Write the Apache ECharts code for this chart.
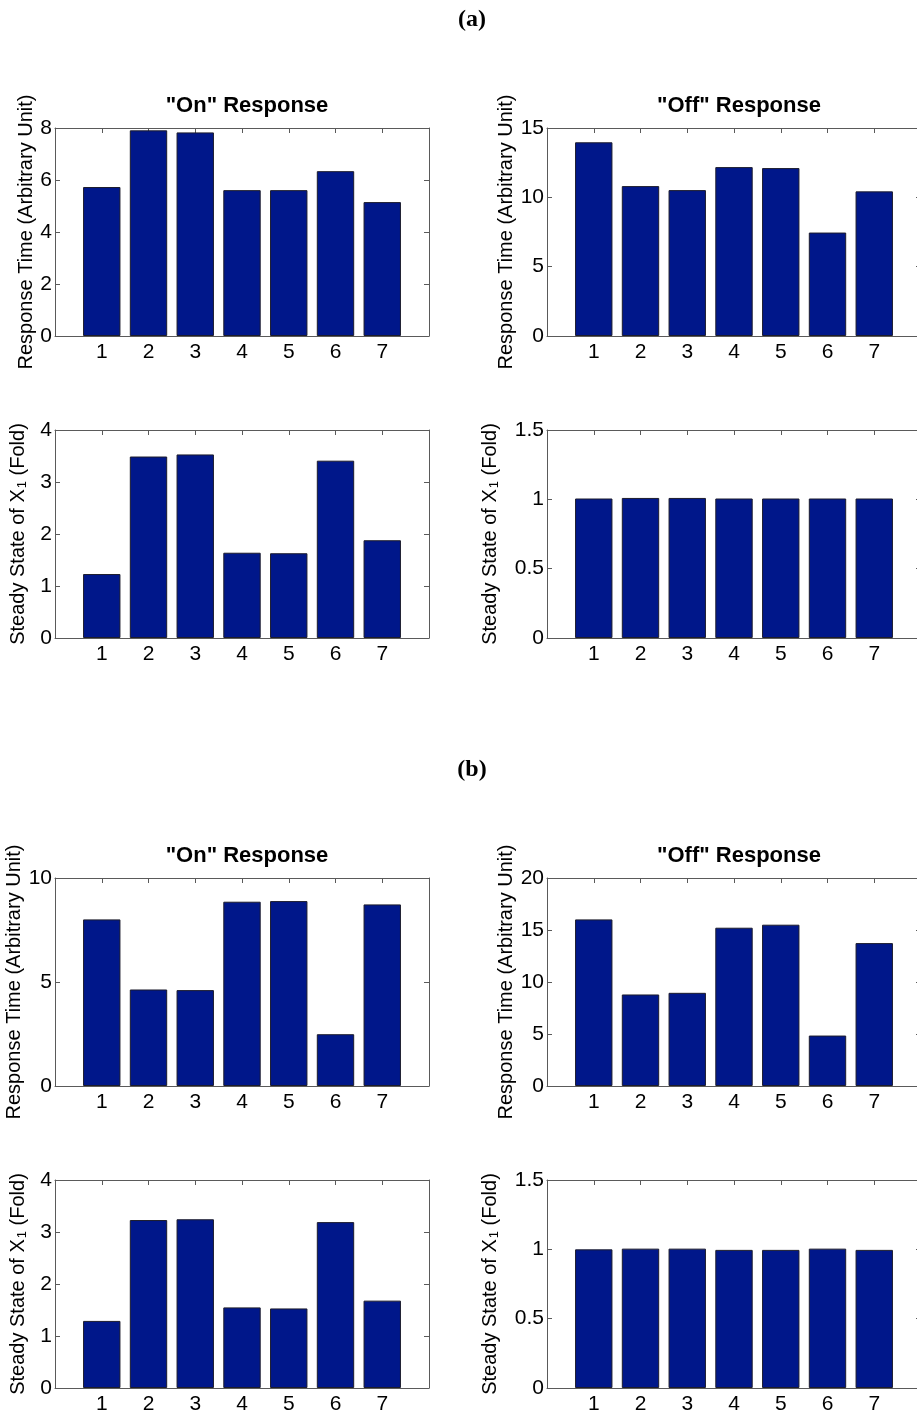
<!DOCTYPE html>
<html>
<head>
<meta charset="utf-8">
<script src="https://cdn.jsdelivr.net/npm/echarts@6/dist/echarts.min.js"></script>
<style>
  html, body { margin: 0; padding: 0; background: #fff; }
  #chart { width: 917px; height: 1416px; }
</style>
</head>
<body>
<div id="chart"></div>
<script>
// Condition index shared by every panel
const conditions = [1, 2, 3, 4, 5, 6, 7];

// (a) response times and steady states
const onTimeA    = [5.73, 7.91, 7.83, 5.61, 5.61, 6.34, 5.15];
const offTimeA   = [13.97, 10.81, 10.52, 12.18, 12.11, 7.46, 10.43];
const onSteadyA  = [1.23, 3.49, 3.53, 1.64, 1.63, 3.41, 1.88];
const offSteadyA = [1.006, 1.010, 1.010, 1.006, 1.006, 1.006, 1.006];

// (b) response times and steady states
const onTimeB    = [8.01, 4.64, 4.61, 8.86, 8.89, 2.49, 8.73];
const offTimeB   = [16.02, 8.80, 8.96, 15.22, 15.51, 4.85, 13.74];
const onSteadyB  = [1.29, 3.23, 3.245, 1.55, 1.53, 3.19, 1.68];
const offSteadyB = [1.000, 1.005, 1.005, 0.996, 0.996, 1.005, 0.996];

// Axis limits and tick steps
const yMaxOnTimeA = 8,  yStepOnTimeA = 2;
const yMaxOffTimeA = 15, yStepOffTimeA = 5;
const yMaxOnTimeB = 10, yStepOnTimeB = 5;
const yMaxOffTimeB = 20, yStepOffTimeB = 5;
const yMaxSteadyOn = 4, yStepSteadyOn = 1;
const yMaxSteadyOff = 1.5, yStepSteadyOff = 0.5;

const timeName = 'Response Time (Arbitrary Unit)';
const steadyName = 'Steady State of X{sub|1} (Fold)';

const SANS = '"Liberation Sans", Arial, Helvetica, sans-serif';
const BAR = '#00178A';
const BOX = '#5a5a5a';
const W = 374, H = 208;
const LX = 55, RX = 547;

const panels = [
  { left: LX, top: 128,  data: onTimeA,    yMax: yMaxOnTimeA,   step: yStepOnTimeA,   name: timeName,   gap: 17 },
  { left: RX, top: 128,  data: offTimeA,   yMax: yMaxOffTimeA,  step: yStepOffTimeA,  name: timeName,   gap: 30 },
  { left: LX, top: 430,  data: onSteadyA,  yMax: yMaxSteadyOn,  step: yStepSteadyOn,  name: steadyName, gap: 26 },
  { left: RX, top: 430,  data: offSteadyA, yMax: yMaxSteadyOff, step: yStepSteadyOff, name: steadyName, gap: 46 },
  { left: LX, top: 878,  data: onTimeB,    yMax: yMaxOnTimeB,   step: yStepOnTimeB,   name: timeName,   gap: 31 },
  { left: RX, top: 878,  data: offTimeB,   yMax: yMaxOffTimeB,  step: yStepOffTimeB,  name: timeName,   gap: 30 },
  { left: LX, top: 1180, data: onSteadyB,  yMax: yMaxSteadyOn,  step: yStepSteadyOn,  name: steadyName, gap: 26 },
  { left: RX, top: 1180, data: offSteadyB, yMax: yMaxSteadyOff, step: yStepSteadyOff, name: steadyName, gap: 46 }
];

// inward-pointing ticks, MATLAB style
function ticks() {
  return { show: true, inside: true, length: 5, lineStyle: { color: BOX, width: 1 } };
}
function line() {
  return { show: true, onZero: false, lineStyle: { color: BOX, width: 1 } };
}

const grid = [], xAxis = [], yAxis = [], series = [];

panels.forEach((p, i) => {
  // fixed boxes; the right column may run past the page edge
  grid.push({
    left: p.left, top: p.top, width: W, height: H,
    outerBoundsMode: 'none', containLabel: false,
    show: false
  });
  // bottom axis with labels
  xAxis.push({
    type: 'value', gridIndex: i, min: 0, max: 8, interval: 1, position: 'bottom',
    axisLine: line(), axisTick: ticks(), splitLine: { show: false },
    axisLabel: {
      margin: 6, color: '#000', fontSize: 21, fontFamily: SANS,
      formatter: v => (conditions.indexOf(v) >= 0 ? String(v) : '')
    }
  });
  // top edge of the box, mirrored ticks
  xAxis.push({
    type: 'value', gridIndex: i, min: 0, max: 8, interval: 1, position: 'top',
    axisLine: line(), axisTick: ticks(), splitLine: { show: false },
    axisLabel: { show: false }
  });
  yAxis.push({
    type: 'value', gridIndex: i, min: 0, max: p.yMax, interval: p.step, position: 'left',
    axisLine: line(), axisTick: ticks(), splitLine: { show: false },
    axisLabel: { margin: 3, color: '#000', fontSize: 21, fontFamily: SANS },
    name: p.name, nameLocation: 'middle', nameGap: p.gap, nameRotate: 90,
    nameTextStyle: {
      color: '#000', fontSize: 20, fontFamily: SANS,
      rich: { sub: { fontSize: 13, fontFamily: SANS, color: '#000', padding: [8, 0, 0, 1] } }
    }
  });
  // right edge of the box, mirrored ticks
  yAxis.push({
    type: 'value', gridIndex: i, min: 0, max: p.yMax, interval: p.step, position: 'right',
    axisLine: line(), axisTick: ticks(), splitLine: { show: false },
    axisLabel: { show: false }
  });
  series.push({
    type: 'bar', xAxisIndex: 2 * i, yAxisIndex: 2 * i, barWidth: 37.4,
    data: p.data.map((v, k) => [conditions[k], v]),
    itemStyle: { color: BAR, borderColor: '#1c1c2c', borderWidth: 1 },
    silent: true
  });
});

const titleStyle = { color: '#000', fontSize: 22, fontWeight: 'bold', fontFamily: SANS };
const partStyle = { color: '#000', fontSize: 24, fontWeight: 'bold', fontFamily: '"Liberation Serif", "Times New Roman", serif' };

const title = [
  { text: '(a)', left: 467, top: 3, textAlign: 'center', textStyle: partStyle },
  { text: '(b)', left: 467, top: 753, textAlign: 'center', textStyle: partStyle },
  { text: '"On" Response', left: LX + W / 2, top: 90, textAlign: 'center', textStyle: titleStyle },
  { text: '"Off" Response', left: RX + W / 2, top: 90, textAlign: 'center', textStyle: titleStyle },
  { text: '"On" Response', left: LX + W / 2, top: 840, textAlign: 'center', textStyle: titleStyle },
  { text: '"Off" Response', left: RX + W / 2, top: 840, textAlign: 'center', textStyle: titleStyle }
];

const chart = echarts.init(document.getElementById('chart'), null, { renderer: 'canvas' });
chart.setOption({
  animation: false,
  backgroundColor: '#fff',
  title, grid, xAxis, yAxis, series
});
</script>
</body>
</html>
